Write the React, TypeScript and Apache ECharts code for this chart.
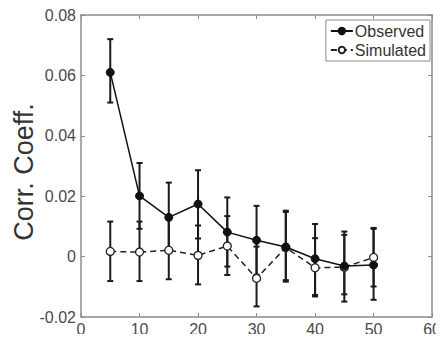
import React, { useEffect, useRef } from "react";
import * as echarts from "echarts";

const xs = [5, 10, 15, 20, 25, 30, 35, 40, 45, 50];
const observed = [0.061, 0.0201, 0.013, 0.0174, 0.0081, 0.0054, 0.0032, -0.0007, -0.0031, -0.0028];
const observedLo = [0.051, 0.0092, 0.0015, 0.006, -0.0033, -0.006, -0.0078, -0.0132, -0.0149, -0.0143];
const observedHi = [0.072, 0.031, 0.0245, 0.0286, 0.0196, 0.0168, 0.0152, 0.0108, 0.0083, 0.0095];
const simulated = [0.0017, 0.0015, 0.0021, 0.0004, 0.0035, -0.0072, 0.003, -0.0037, -0.0035, -0.0003];
const simulatedLo = [-0.0081, -0.0081, -0.0075, -0.0092, -0.0061, -0.0165, -0.0083, -0.0127, -0.0125, -0.0099];
const simulatedHi = [0.0116, 0.0116, 0.0121, 0.0103, 0.0134, 0.0033, 0.0148, 0.0061, 0.0072, 0.0092];
const yTitle = "Corr. Coeff.";

const FONT = "Liberation Sans, Arial, sans-serif";
const AXIS_COLOR = "#8c8c8c";
const LABEL_COLOR = "#4a4a4a";

function errorRender(params: any, api: any) {
  const x = api.value(0);
  const lo = api.value(1);
  const hi = api.value(2);
  const p1 = api.coord([x, lo]);
  const p2 = api.coord([x, hi]);
  const cap = 3;
  const style = { stroke: "#1a1a1a", lineWidth: 2 };
  return {
    type: "group",
    children: [
      { type: "line", shape: { x1: p1[0], y1: p1[1], x2: p2[0], y2: p2[1] }, style },
      { type: "line", shape: { x1: p1[0] - cap, y1: p1[1], x2: p1[0] + cap, y2: p1[1] }, style },
      { type: "line", shape: { x1: p2[0] - cap, y1: p2[1], x2: p2[0] + cap, y2: p2[1] }, style },
    ],
  };
}

export default function App() {
  const ref = useRef<HTMLDivElement>(null);
  useEffect(() => {
    if (!ref.current) return;
    const chart = echarts.init(ref.current, undefined, { renderer: "svg" });
    const fmt = (v: number) => String(parseFloat(v.toFixed(2)));
    chart.setOption({
      animation: false,
      backgroundColor: "#ffffff",
      textStyle: { fontFamily: FONT },
      grid: { left: 81, right: 11, top: 15, bottom: 25 },
      graphic: [
        {
          type: "text",
          x: 24,
          y: 172,
          rotation: Math.PI / 2,
          style: {
            text: yTitle,
            fontSize: 27,
            fontFamily: FONT,
            fill: "#333",
            align: "center",
            verticalAlign: "middle",
          },
        },
      ],
      legend: {
        data: ["Observed", "Simulated"],
        orient: "vertical",
        right: 14,
        top: 20,
        backgroundColor: "#ffffff",
        borderColor: AXIS_COLOR,
        borderWidth: 1,
        borderRadius: 0,
        padding: [3, 4, 3, 4],
        itemGap: 3,
        itemWidth: 22,
        itemHeight: 8,
        textStyle: { fontFamily: FONT, fontSize: 16, color: "#333", padding: [0, 0, 0, -3] },
      },
      xAxis: [
        {
          type: "value",
          min: 0,
          max: 60,
          interval: 10,
          position: "bottom",
          axisLine: { show: true, onZero: false, lineStyle: { color: AXIS_COLOR, width: 1.5 } },
          axisTick: { show: true, inside: true, length: 4, lineStyle: { color: AXIS_COLOR } },
          axisLabel: { color: LABEL_COLOR, fontSize: 16, fontFamily: FONT, margin: 4 },
          splitLine: { show: false },
        },
        {
          type: "value",
          min: 0,
          max: 60,
          interval: 10,
          position: "top",
          axisLine: { show: true, onZero: false, lineStyle: { color: AXIS_COLOR, width: 1.5 } },
          axisTick: { show: true, inside: true, length: 4, lineStyle: { color: AXIS_COLOR } },
          axisLabel: { show: false },
          splitLine: { show: false },
        },
      ],
      yAxis: [
        {
          type: "value",
          min: -0.02,
          max: 0.08,
          interval: 0.02,
          position: "left",
          axisLine: { show: true, onZero: false, lineStyle: { color: AXIS_COLOR, width: 1.5 } },
          axisTick: { show: true, inside: true, length: 4, lineStyle: { color: AXIS_COLOR } },
          axisLabel: { color: LABEL_COLOR, fontSize: 16, fontFamily: FONT, margin: 5, formatter: fmt },
          splitLine: { show: false },
        },
        {
          type: "value",
          min: -0.02,
          max: 0.08,
          interval: 0.02,
          position: "right",
          axisLine: { show: true, onZero: false, lineStyle: { color: AXIS_COLOR, width: 1.5 } },
          axisTick: { show: true, inside: true, length: 4, lineStyle: { color: AXIS_COLOR } },
          axisLabel: { show: false },
          splitLine: { show: false },
        },
      ],
      series: [
        {
          type: "custom",
          name: "obsErr",
          renderItem: errorRender,
          data: xs.map((x, i) => [x, observedLo[i], observedHi[i]]),
          z: 2,
        },
        {
          type: "custom",
          name: "simErr",
          renderItem: errorRender,
          data: xs.map((x, i) => [x, simulatedLo[i], simulatedHi[i]]),
          z: 2,
        },
        {
          type: "line",
          name: "Simulated",
          data: xs.map((x, i) => [x, simulated[i]]),
          symbol: "circle",
          symbolSize: 8,
          lineStyle: { color: "#222", width: 1.5, type: [6, 4] },
          itemStyle: { color: "#ffffff", borderColor: "#222", borderWidth: 1.3 },
          z: 3,
        },
        {
          type: "line",
          name: "Observed",
          data: xs.map((x, i) => [x, observed[i]]),
          symbol: "circle",
          symbolSize: 8,
          lineStyle: { color: "#111", width: 1.5 },
          itemStyle: { color: "#111", borderColor: "#111", borderWidth: 1 },
          z: 4,
        },
      ],
    });
    return () => chart.dispose();
  }, []);
  return <div ref={ref} style={{ width: 444, height: 342, margin: -8 }} />;
}
